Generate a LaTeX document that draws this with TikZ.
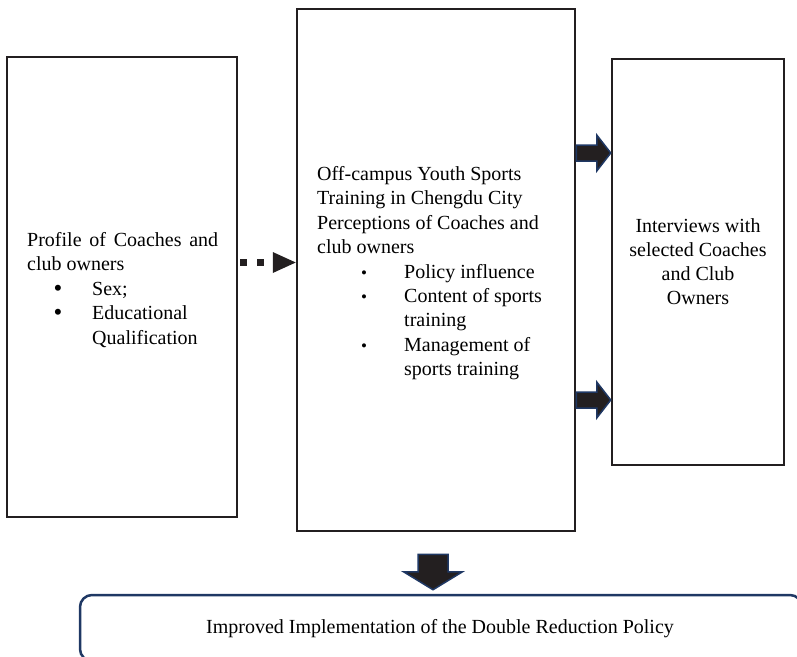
\documentclass[tikz,border=0pt]{standalone}
\usepackage{fontspec}
\setmainfont{Liberation Serif}
\usetikzlibrary{calc}
\definecolor{boxline}{HTML}{231F20}
\definecolor{navy}{HTML}{1F3864}
\newcommand\blockright[2]{\filldraw[blk] let \p1=#1, \p2=#2 in (\x1,\y1+8pt) -- (\x2-14pt,\y1+8pt) -- (\x2-14pt,\y1+18pt) -- (\x2,\y1) -- (\x2-14pt,\y1-18pt) -- (\x2-14pt,\y1-8pt) -- (\x1,\y1-8pt) -- cycle;}
\begin{document}
\begin{tikzpicture}[x=1pt,y=-1pt,
  frame/.style={draw=boxline, line width=2.5pt, inner sep=0pt},
  txt/.style={font=\fontsize{20}{24}\selectfont, inner sep=0pt, anchor=base west, text=black},
  ctxt/.style={txt, anchor=base},
  bigdot/.style={font=\fontsize{25}{28}\selectfont, inner sep=0pt, anchor=base, text=black},
  smalldot/.style={font=\fontsize{17}{20}\selectfont, inner sep=0pt, anchor=base, text=black},
  blk/.style={fill=boxline, draw=navy, line width=1.5pt, line join=miter}]
\useasboundingbox (0,0) rectangle (797,656);
\clip (0,0) rectangle (797,656);
% boxes
\node[frame, minimum width=230pt, minimum height=460pt] (left) at (122,287) {};
\node[frame, minimum width=278pt, minimum height=522pt] (mid) at (436,270) {};
\node[frame, minimum width=172pt, minimum height=406pt] (right) at (698,262) {};
\node[draw=navy, line width=2.5pt, rounded corners=12pt, inner sep=0pt, minimum width=722pt, minimum height=66pt] (goal) at (441,628) {};
% left text
\node[txt] (l1) at (27,246) {\makebox[191pt][s]{Profile of Coaches and}};
\node[txt] (l2) at (27,270.5) {club owners};
\node[bigdot] (lb1) at (58,296) {•};
\node[txt] (l3) at (92,295) {Sex;};
\node[bigdot] (lb2) at (58,320.5) {•};
\node[txt] (l4) at (92,319.5) {Educational};
\node[txt] (l5) at (92,344) {Qualification};
% middle text
\node[txt] (m1) at (317,180.5) {Off-campus Youth Sports};
\node[txt] (m2) at (317,204.9) {Training in Chengdu City};
\node[txt] (m3) at (317,229.3) {Perceptions of Coaches and};
\node[txt] (m4) at (317,253.7) {club owners};
\node[smalldot] (mb1) at (364,278.1) {•};
\node[txt] (m5) at (404,278.1) {Policy influence};
\node[smalldot] (mb2) at (364,302.5) {•};
\node[txt] (m6) at (404,302.5) {Content of sports};
\node[txt] (m7) at (404,326.9) {training};
\node[smalldot] (mb3) at (364,351.3) {•};
\node[txt] (m8) at (404,351.3) {Management of};
\node[txt] (m9) at (404,375.7) {sports training};
% right text
\node[ctxt] (r1) at (698,232) {Interviews with};
\node[ctxt] (r2) at (698,256) {selected Coaches};
\node[ctxt] (r3) at (698,280) {and Club};
\node[ctxt] (r4) at (698,304) {Owners};
% bottom text
\node[ctxt] (g1) at (440,633) {Improved Implementation of the Double Reduction Policy};
% dotted arrow
\coordinate (dy) at (0,262.5);
\draw[boxline, line width=7pt, dash pattern=on 7pt off 10pt] ($(left.east|-dy)+(2,0)$) -- ($(mid.west|-dy)+(-17,0)$);
\fill[boxline] ($(mid.west|-dy)+(-23,-10.5)$) -- (mid.west|-dy) -- ($(mid.west|-dy)+(-23,10.5)$) -- cycle;
% block arrows to the right
\coordinate (a1) at (0,153);
\coordinate (a2) at (0,400);
\blockright{(mid.east|-a1)}{(right.west|-a1)}
\blockright{(mid.east|-a2)}{(right.west|-a2)}
% block arrow down
\coordinate (dtop) at ($(mid.south)+(-3,22)$);
\coordinate (dtip) at ($(dtop|-goal.north)+(0,-4)$);
\filldraw[blk] let \p1=(dtop), \p2=(dtip) in (\x1-15pt,\y1) -- (\x1+15pt,\y1) -- (\x1+15pt,\y2+18pt) -- (\x1+29.5pt,\y2+18pt) -- (\x1,\y2) -- (\x1-29.5pt,\y2+18pt) -- (\x1-15pt,\y2+18pt) -- cycle;
\end{tikzpicture}
\end{document}
